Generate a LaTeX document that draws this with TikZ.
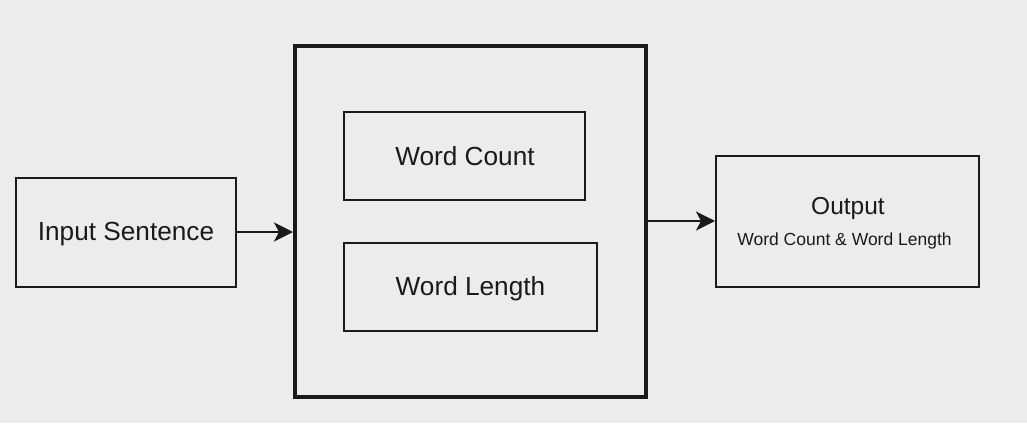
\documentclass[tikz,border=0pt]{standalone}
\usepackage{fontspec}
\setmainfont{Liberation Sans}
\usetikzlibrary{arrows.meta}
\definecolor{bg}{HTML}{ECECEC}
\definecolor{ink}{HTML}{1A1A1A}
\begin{document}
\begin{tikzpicture}[x=1pt,y=-1pt,
  box/.style={draw=ink, line width=2pt, fill=none, inner sep=0pt},
  bigbox/.style={draw=ink, line width=4pt, inner sep=0pt},
  lbl/.style={text=ink, inner sep=0pt, anchor=base, font=\fontsize{26.2}{30}\selectfont},
  small/.style={text=ink, inner sep=0pt, anchor=base, font=\fontsize{17.5}{20}\selectfont},
  conn/.style={draw=ink, line width=2pt, -{Stealth[length=19pt,width=19pt,inset=5pt]}}]
\fill[bg] (0,0) rectangle (1027,423);
\useasboundingbox (0,0) rectangle (1027,423);
\node[box, minimum width=220pt, minimum height=109pt] (input) at (126,232.5) {};
\node[lbl] (inputtxt) at (126,240.7) {Input Sentence};
\node[bigbox, minimum width=351pt, minimum height=351pt] (proc) at (470.5,221.5) {};
\node[box, minimum width=241pt, minimum height=88pt] (wc) at (464.5,156) {};
\node[lbl] (wctxt) at (465,165) {Word Count};
\node[box, minimum width=253pt, minimum height=88pt] (wl) at (470.5,287) {};
\node[lbl] (wltxt) at (470.5,295.7) {Word Length};
\node[box, minimum width=263pt, minimum height=131pt] (out) at (847.5,221.5) {};
\node[lbl, font=\fontsize{24.5}{28}\selectfont] (outtxt) at (848,214) {Output};
\node[small] (outsub) at (844.5,245) {Word Count \& Word Length};
\draw[conn] (input.east |- 0,232) -- (proc.west |- 0,232);
\draw[conn] (proc.east |- 0,221) -- (out.west |- 0,221);
\end{tikzpicture}
\end{document}
